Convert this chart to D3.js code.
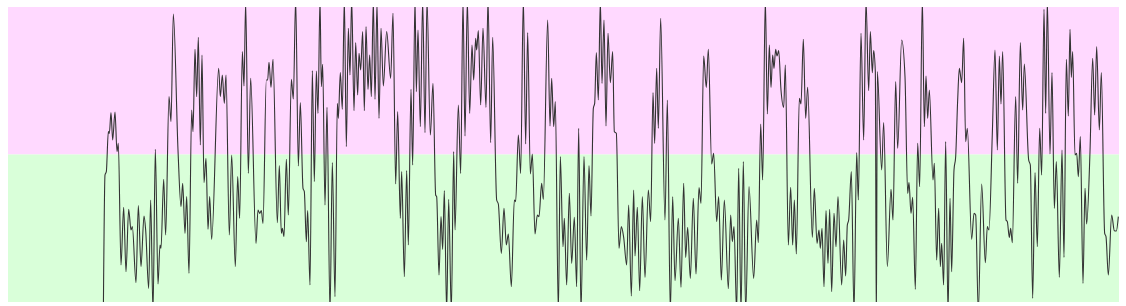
<!DOCTYPE html>
<html>
<head>
<meta charset="utf-8">
<script src="https://cdn.jsdelivr.net/npm/d3@7"></script>
<style>
  body { margin: 0; background: #fff; }
</style>
</head>
<body>
<div id="chart"></div>
<script>
// sample positions and readings
const times = [
  286, 291, 295, 301, 304, 309, 314, 321, 327, 331, 339, 347, 354, 362, 369, 373, 384, 391, 399, 408,
  413, 422, 428, 435, 442, 450, 456, 459, 467, 473, 483, 489, 496, 510, 519, 524, 531, 536, 543, 551,
  555, 561, 566, 571, 577, 582, 588, 594, 600, 605, 611, 632, 637, 643, 649, 654, 664, 671, 682, 689,
  695, 703, 708, 713, 721, 728, 744, 750, 755, 760, 765, 775, 779, 783, 789, 795,
  808, 814, 820, 823, 828, 835, 841, 850, 856, 863, 871, 877, 885, 889, 895, 899, 906, 913, 919, 925,
  930, 936, 940, 944, 951, 957, 966, 973, 981, 988, 991, 997, 1003, 1009, 1015, 1021, 1026, 1031, 1038, 1043,
  1049, 1053, 1058, 1064, 1069,
  1074, 1080, 1085, 1090, 1096, 1101, 1107, 1113, 1119, 1126, 1136, 1148, 1155, 1163, 1169, 1177, 1181, 1189, 1196, 1201,
  1209, 1214, 1221, 1225, 1230, 1237, 1244, 1251, 1257, 1267, 1275, 1283, 1286, 1293, 1299, 1304, 1309, 1316, 1322, 1330,
  1337, 1341, 1351, 1358, 1365, 1371, 1378, 1385, 1392, 1397, 1403, 1406, 1411, 1418, 1425, 1434, 1440, 1448, 1454, 1466,
  1471, 1480, 1488, 1495, 1501, 1510, 1519, 1523, 1531, 1538, 1546, 1553, 1559, 1567, 1573, 1581, 1588, 1593, 1601, 1606,
  1619, 1626, 1631, 1637, 1642, 1651, 1657, 1665, 1669, 1676, 1684, 1691, 1699, 1706, 1712, 1719, 1728, 1736, 1743, 1749,
  1756, 1760, 1765, 1771, 1777, 1782, 1788, 1794, 1800, 1807, 1814, 1819, 1825, 1833, 1840, 1847, 1856, 1862, 1870, 1877,
  1881, 1888, 1895, 1903, 1911, 1921, 1928, 1935, 1940, 1946, 1951, 1958, 1971, 1978, 1987, 1994, 2001, 2011, 2019, 2027,
  2033, 2039, 2047, 2056, 2064, 2073, 2079, 2087, 2095, 2101, 2111, 2117, 2126, 2132, 2140, 2149,
  2161, 2168, 2173, 2178, 2186, 2192, 2199, 2206, 2213, 2223, 2237, 2246, 2251, 2258, 2264, 2272, 2278, 2284, 2289, 2294,
  2298, 2303, 2307, 2312, 2319, 2327, 2332, 2341, 2348, 2354, 2359, 2365, 2374, 2379, 2386, 2393, 2399, 2413, 2419,
  2427, 2433, 2437, 2442, 2448, 2454, 2460, 2465, 2471, 2478, 2484, 2490, 2501, 2507, 2513, 2518, 2522, 2530, 2538, 2546,
  2551, 2559, 2567, 2574, 2582, 2587, 2593, 2597, 2602, 2605, 2608, 2621, 2627, 2638, 2649, 2655, 2663, 2669, 2681,
  2691, 2699, 2703, 2709, 2714, 2722, 2729, 2735, 2743, 2749, 2754, 2759, 2764, 2775, 2779, 2786, 2792, 2797, 2801, 2807,
  2813, 2820, 2826, 2831, 2838, 2843, 2849, 2854, 2861, 2867, 2873, 2878, 2891, 2898, 2903, 2911, 2921, 2932, 2938, 2943,
  2953, 2961, 2968, 2974, 2979, 2984, 2994, 2998, 3004, 3008, 3013, 3023, 3029, 3037, 3044, 3049, 3062, 3067, 3074, 3081,
  3088, 3095, 3101, 3108, 3113, 3118, 3126, 3132, 3139, 3145, 3154, 3162, 3168, 3175, 3181, 3186, 3190, 3194, 3201, 3206,
  3211, 3217, 3225, 3231, 3236, 3246, 3254, 3260, 3266, 3274, 3280, 3290, 3294, 3301, 3311, 3319, 3325, 3331
];

const values = [
  -40, 381, 391, 511, 506, 568, 486, 570, 451, 476, 111, 284, 91, 278, 216, 226, 58, 289, 106, 258,
  216, 41, 306, -30, 458, 54, 171, 161, 368, 201, 616, 541, 864, 456, 286, 356, 206, 316, 86, 576,
  511, 758, 616, 794, 471, 741, 358, 431, 218, 316, 188, 701, 616, 681, 596, 681, 201, 441, 106, 376,
  251, 751, 648, 900, 386, 671, 176, 276, 266, 274, 236, 666, 666, 719, 644, 728,
  238, 409, 206, 221, 196, 428, 261, 668, 609, 910, 408, 598, 341, 331, 181, 274, 51, 694, 361, 693,
  566, 910, 646, 713, 291, 584, -30, 418, 16, 596, 551, 688, 578, 910, 466, 821, 681, 910, 574, 778,
  621, 746, 696, 811, 574,
  826, 638, 741, 616, 905, 608, 895, 551, 821, 648, 811, 671, 866, 354, 571, 251, 391, 76, 394, 171,
  638, 411, 910, 631, 816, 526, 905, 508, 905, 501, 656, 321, 316, 81, 256, 158, 334, -30, 308, -30,
  451, 216, 591, 386, 905, 498, 905, 566, 771, 666, 791, 756, 814, 591, 821, 584, 910, 478, 794, 306,
  294, 146, 281, 171, 204, 46, 306, 301, 501, 386, 910, 474, 808, 384, 444, 204, 261, 256, 356, 308,
  846, 528, 671, 526, 601, -30, 436, 166, 251, 51, 326, 116, 254, 46, 521, -30, 436, 126, 409, 258,
  581, 596, 748, 606, 905, 656, 846, 528, 806, 658, 751, 511, 506, 161, 226, 194, 111, 291, 18, 336,
  138, 284, 34, 316, 74, 336, 241, 628, 476, 701, 521, 851, 246, 606, -30, 316, 64, 251, 44, 356,
  134, 224, 71, 311, 84, 343, 296, 738, 644, 758, 414, 446, 241, 316, 66, 306,
  40, 261, 181, 226, -30, 401, -30, 421, -30, 346, 71, 246, 178, 534, 366, 910, 564, 771, 644, 741,
  701, 758, 738, 754, 636, 584, 711, 171, 344, 171, 306, 144, 611, 594, 788, 551, 644, 194, 341,
  176, 216, 161, 221, 46, 274, 116, 278, 31, 266, 166, 316, 51, 186, 78, 231, 246, 391, -30, 448,
  306, 806, 486, 905, 634, 811, 688, 754, 691, -80, 691, 396, 538, 106, 338, 246, 661, 461, 786,
  676, 326, 358, 266, 314, 38, 476, 346, 910, 526, 678, 551, 636, 366, 416, 126, 281, 106, 176, 51,
  481, -30, 311, 91, 396, 436, 606, 701, 658, 791, 481, 521, 188, 266, 261, -30, 354, 118, 226, 216,
  506, 756, 456, 738, 594, 751, 246, 241, 194, 221, 178, 616, 356, 778, 576, 714, 426, 411, 11, 388,
  166, 521, 381, 878, 566, 905, 444, 688, 281, 421, 74, 456, 134, 728, 558, 818, 674, 751, 441, 446,
  376, 496, 56, 341, 234, 451, 731, 561, 766, 516, 688, 206, 196, 81, 261, 214, 213, 256
];

const timeDomain = [0, 3333];
const valueDomain = [0, 885];

const width = 1126;
const height = 306;
const margin = { top: 7, right: 7, bottom: 4, left: 8 };

const svg = d3.select("#chart")
  .append("svg")
  .attr("width", width)
  .attr("height", height);

const x = d3.scaleLinear()
  .domain(timeDomain)
  .range([margin.left, width - margin.right]);

const y = d3.scaleLinear()
  .domain(valueDomain)
  .range([height - margin.bottom, margin.top]);

const mid = (valueDomain[0] + valueDomain[1]) / 2;

svg.append("clipPath")
  .attr("id", "plot-clip")
  .append("rect")
  .attr("x", x(timeDomain[0]))
  .attr("y", y(valueDomain[1]))
  .attr("width", x(timeDomain[1]) - x(timeDomain[0]))
  .attr("height", y(valueDomain[0]) - y(valueDomain[1]));

// upper band
svg.append("rect")
  .attr("x", x(timeDomain[0]))
  .attr("y", y(valueDomain[1]))
  .attr("width", x(timeDomain[1]) - x(timeDomain[0]))
  .attr("height", y(mid) - y(valueDomain[1]))
  .attr("fill", "#ffd9ff");

// lower band
svg.append("rect")
  .attr("x", x(timeDomain[0]))
  .attr("y", y(mid))
  .attr("width", x(timeDomain[1]) - x(timeDomain[0]))
  .attr("height", y(valueDomain[0]) - y(mid))
  .attr("fill", "#d9ffd9");

const data = times.map((t, i) => ({ t: t, v: values[i] }));

const line = d3.line()
  .x(d => x(d.t))
  .y(d => y(d.v))
  .curve(d3.curveMonotoneX);

svg.append("path")
  .datum(data)
  .attr("clip-path", "url(#plot-clip)")
  .attr("fill", "none")
  .attr("stroke", "#333")
  .attr("stroke-width", 1.1)
  .attr("d", line);
</script>
</body>
</html>
